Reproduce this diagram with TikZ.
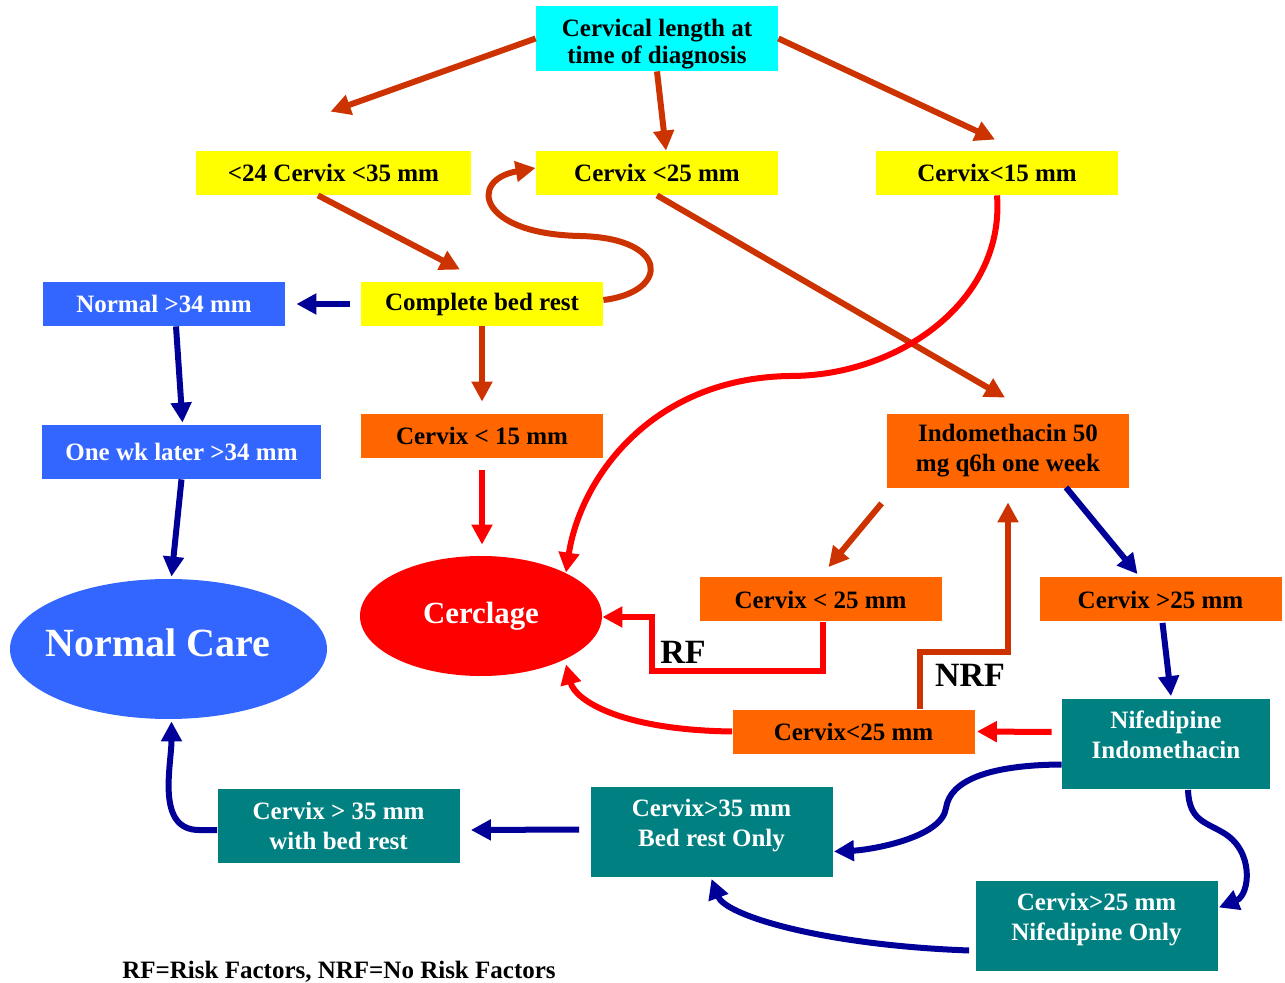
\documentclass[tikz,border=0pt]{standalone}
\usepackage{fontspec}
\setmainfont{Liberation Serif}
\usetikzlibrary{arrows.meta,calc,shapes.geometric}
\definecolor{cyn}{RGB}{0,255,255}
\definecolor{ylw}{RGB}{255,255,0}
\definecolor{orng}{RGB}{255,102,0}
\definecolor{blu}{RGB}{51,102,255}
\definecolor{tl}{RGB}{0,128,128}
\definecolor{rd}{RGB}{255,0,0}
\definecolor{brn}{RGB}{204,51,0}
\definecolor{nvy}{RGB}{0,0,153}
\begin{document}
\begin{tikzpicture}[x=0.5pt, y=-0.5pt]
\path [use as bounding box] (0,0) rectangle (1285,983);
\tikzstyle{box} = [rectangle, inner sep=0pt, align=center, font=\bfseries\fontsize{12.5}{15}\selectfont, minimum width=121pt, minimum height=22pt]
\tikzstyle{ybox} = [box, fill=ylw]
\tikzstyle{obox} = [box, fill=orng]
\tikzstyle{bbox} = [box, fill=blu, text=white]
\tikzstyle{tbox} = [box, fill=tl, text=white, minimum height=45pt]
\tikzstyle{lbl} = [font=\bfseries\fontsize{17}{20}\selectfont]
\tikzstyle{tip} = [-{Triangle[length=10pt,width=10pt]}]
\tikzstyle{brarrow} = [tip, draw=brn, line width=3pt]
\tikzstyle{rdarrow} = [tip, draw=rd, line width=3pt]
\tikzstyle{nvarrow} = [tip, draw=nvy, line width=3pt]
% boxes
\node[box, fill=cyn, minimum height=32.5pt] (top) at (657,38.5) {\rule{0pt}{14pt}Cervical length at\\[-1.5pt]time of diagnosis};
\node[ybox, minimum width=137.5pt] (y1) at (333.5,173) {<24 Cervix <35 mm};
\node[ybox] (y2) at (657,173) {Cervix <25 mm};
\node[ybox] (y3) at (997,173) {Cervix<15 mm};
\node[ybox] (bedrest) at (482,304) {Complete bed rest};
\node[bbox] (normal34) at (164,304) {Normal >34 mm};
\node[bbox, minimum width=139.5pt, minimum height=27pt] (onewk) at (181.5,452) {One wk later >34 mm};
\node[obox] (cx15) at (482,436) {Cervix < 15 mm};
\node[obox, minimum height=37pt] (indo) at (1008,451) {Indomethacin 50\\mg q6h one week};
\node[ellipse, fill=rd, text=white, inner sep=0pt, minimum width=121pt, minimum height=60pt, font=\bfseries\fontsize{15.4}{18}\selectfont] (cerclage) at (481,616) {Cerclage};
\node[ellipse, fill=blu, text=white, inner sep=-20pt, align=center, minimum width=158.5pt, minimum height=70pt, font=\bfseries\fontsize{20}{24}\selectfont] (normalcare) at (168.5,649) {Normal Care\hspace*{10.5pt}\\[-18pt]};
\node[obox] (cx25a) at (820.5,599.5) {Cervix < 25 mm};
\node[obox] (cx25b) at (1160.5,599.5) {Cervix >25 mm};
\node[obox] (cx25c) at (853.5,731.5) {Cervix<25 mm};
\node[tbox, minimum width=104pt] (nifindo) at (1166,743.5) {Nifedipine\\Indomethacin\\[-6pt]};
\node[tbox] (bedonly) at (711.5,831.5) {Cervix>35 mm\\Bed rest Only\\[-6pt]};
\node[tbox, minimum height=37pt] (withbed) at (338.5,826) {Cervix > 35 mm\\with bed rest};
\node[tbox] (nifonly) at (1096.5,925.5) {Cervix>25 mm\\Nifedipine Only\\[-6pt]};
\node[lbl] (rf) at (683,652) {RF};
\node[lbl] (nrf) at (970,675) {NRF};
\node[font=\bfseries\fontsize{12.5}{15}\selectfont] (note) at (339,972) {RF=Risk Factors, NRF=No Risk Factors};
% connectors
\draw[brarrow] (top.west) -- ($(y1.north)+(-3,-39)$);
\draw[brarrow] (top.south) -- ($(y2.north)+(9,0)$);
\draw[brarrow] (top.east) -- ($(y3.north)+(-2,-11)$);
\draw[brarrow] ($(y1.south)+(-15.5,0)$) -- ($(bedrest.north)+(-22,-12)$);
\draw[brarrow] ($(bedrest.east)+(0,-4)$) .. controls (670,292) and (670,238) .. (580,236) .. controls (478,234) and (468,180) .. ($(y2.west)+(0,-5)$);
\draw[brarrow] (y2.south) -- ($(indo.north)+(-3,-16)$);
\draw[nvarrow] ($(bedrest.west)+(-11,0)$) -- ($(normal34.east)+(11,0)$);
\draw[brarrow] (bedrest.south) -- ($(cx15.north)+(0,-12)$);
\draw[nvarrow] ($(normal34.south)+(12,0)$) -- ($(onewk.north)+(1,-2)$);
\draw[nvarrow] (onewk.south) -- ($(normalcare.north)+(3,-2)$);
\draw[rdarrow] ($(cx15.south)+(0,12)$) -- ($(cerclage.north)+(1,-11)$);
\draw[rdarrow] (y3.south) .. controls (1005,300) and (900,376) .. (790,376) .. controls (650,378) and (580,480) .. ($(cerclage.north)+(85,17)$);
\draw[brarrow] ($(indo.south west)+(-5,15)$) -- ($(cx25a.north)+(8,-10)$);
\draw[nvarrow] ($(indo.south)+(58,-1)$) -- ($(cx25b.north)+(-23,-3)$);
\draw[rdarrow] ($(cx25a.south)+(2,0)$) -- ++(0,49) -- ++(-171,0) |- ($(cerclage.east)+(0,1)$);
\draw[brarrow] ($(cx25c.north)+(66,0)$) -- ++(0,-57) -| ($(indo.south)+(0,14)$);
\draw[rdarrow] ($(nifindo.west)+(-10,-11.5)$) -- ($(cx25c.east)+(2,0)$);
\draw[rdarrow] (cx25c.west) .. controls (620,730) and (575,700) .. ($(cerclage.south)+(85,-12)$);
\draw[nvarrow] ($(cx25b.south)+(2,1)$) -- ($(nifindo.north)+(5,-2)$);
\draw[nvarrow] ($(nifindo.west)+(0,21)$) .. controls (990,765) and (950,780) .. (946,808) .. controls (942,838) and (870,850) .. ($(bedonly.east)+(1,20)$);
\draw[nvarrow] ($(nifindo.south)+(22,1)$) .. controls (1189,820) and (1205,822) .. (1222,832) .. controls (1255,850) and (1250,895) .. ($(nifonly.east)+(1,-18)$);
\draw[nvarrow] ($(nifonly.west)+(-6,25)$) .. controls (820,945) and (725,915) .. ($(bedonly.south)+(0,2)$);
\draw[nvarrow] ($(bedonly.west)+(-11,-2)$) -- ($(withbed.east)+(11,4)$);
\draw[nvarrow] ($(withbed.west)+(0,4)$) -- ++(-18,0) to[out=180,in=-90] ($(normalcare.south)+(3,2)$);
\end{tikzpicture}
\end{document}
